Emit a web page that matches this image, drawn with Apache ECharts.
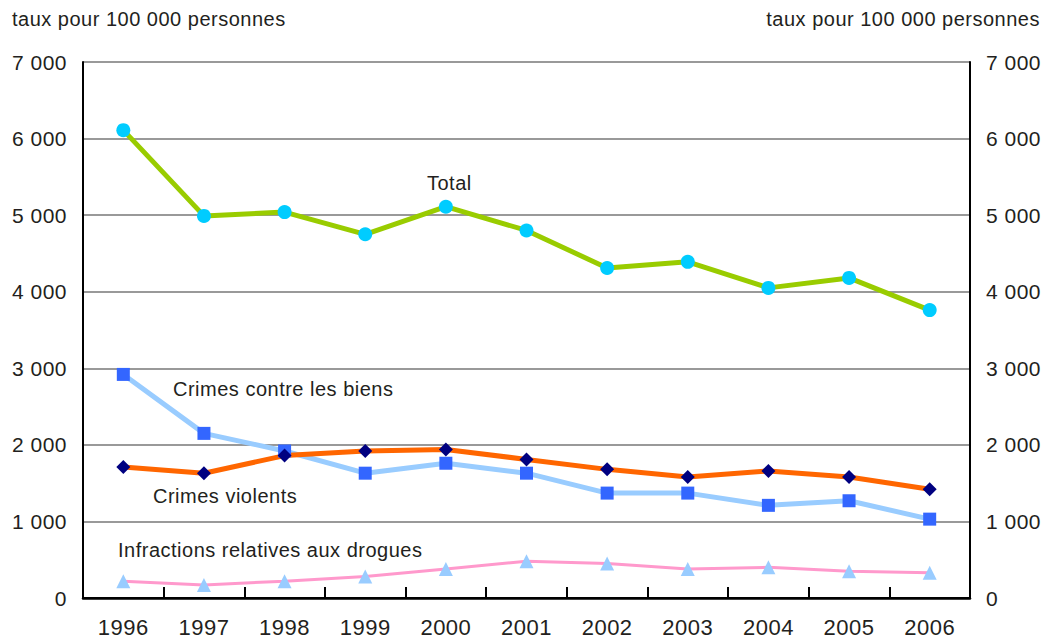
<!DOCTYPE html>
<html>
<head>
<meta charset="utf-8">
<script src="https://cdn.jsdelivr.net/npm/echarts@6/dist/echarts.min.js"></script>
<style>
  html, body { margin: 0; padding: 0; background: #fff; }
  #chart { width: 1057px; height: 638px; letter-spacing: 0.5px; }
</style>
</head>
<body>
<div id="chart"></div>
<script>
const years = ['1996', '1997', '1998', '1999', '2000', '2001', '2002', '2003', '2004', '2005', '2006']
const total = [6110, 4990, 5040, 4750, 5110, 4800, 4310, 4390, 4050, 4180, 3760]
const biens = [2920, 2150, 1920, 1630, 1760, 1630, 1370, 1370, 1210, 1270, 1030]
const violents = [1710, 1630, 1860, 1920, 1940, 1810, 1680, 1580, 1660, 1580, 1420]
const drogues = [220, 170, 220, 280, 380, 480, 450, 380, 400, 350, 330]
const unitLabel = 'taux pour 100 000 personnes'

const FONT = '"Liberation Sans Narrow", "Liberation Sans", Arial, sans-serif'
const TXT = '#231f20'

const fmt = v => String(v).replace(/\B(?=(\d{3})+(?!\d))/g, ' ')

const chart = echarts.init(document.getElementById('chart'), null, { renderer: 'svg' })

const yAxisBase = {
  type: 'value',
  min: 0,
  max: 7000,
  interval: 1000,
  axisLine: { show: true, lineStyle: { color: '#000', width: 2 } },
  axisTick: { show: false },
  axisLabel: { color: TXT, fontFamily: FONT, fontSize: 21, formatter: fmt, margin: 16 }
}

const lineSeries = (name, data, lineColor, lineWidth, symbol, symbolSize, markerColor) => ({
  name,
  type: 'line',
  data,
  symbol,
  symbolSize,
  showAllSymbol: true,
  lineStyle: { color: lineColor, width: lineWidth },
  itemStyle: { color: markerColor, borderWidth: 0 },
  emphasis: { disabled: true },
  animation: false
})

const option = {
  backgroundColor: '#fff',
  grid: { left: 83, right: 87, top: 62, bottom: 40 },
  xAxis: [
    {
      type: 'category',
      data: years,
      boundaryGap: true,
      axisLine: { lineStyle: { color: '#000', width: 2.5 } },
      axisTick: { show: true, inside: true, length: 11, lineStyle: { color: '#000', width: 2 } },
      axisLabel: { color: TXT, fontFamily: FONT, fontSize: 22, margin: 18 }
    },
    {
      type: 'category',
      data: years,
      position: 'top',
      axisLine: { lineStyle: { color: '#000', width: 2 } },
      axisTick: { show: false },
      axisLabel: { show: false }
    }
  ],
  yAxis: [
    Object.assign({}, yAxisBase, {
      position: 'left',
      splitLine: { show: true, lineStyle: { color: '#999', width: 2 } }
    }),
    Object.assign({}, yAxisBase, {
      position: 'right',
      splitLine: { show: false }
    })
  ],
  graphic: [
    { type: 'text', x: 12, y: 9, style: { text: unitLabel, fill: TXT, font: '20px ' + FONT } },
    { type: 'text', x: 1040, y: 9, style: { text: unitLabel, fill: TXT, font: '20px ' + FONT, textAlign: 'right' } },
    { type: 'text', x: 427, y: 173, style: { text: 'Total', fill: TXT, font: '20px ' + FONT } },
    { type: 'text', x: 173, y: 379, style: { text: 'Crimes contre les biens', fill: TXT, font: '20px ' + FONT } },
    { type: 'text', x: 153, y: 486, style: { text: 'Crimes violents', fill: TXT, font: '20px ' + FONT } },
    { type: 'text', x: 118, y: 540, style: { text: 'Infractions relatives aux drogues', fill: TXT, font: '20px ' + FONT } }
  ],
  series: [
    lineSeries('Infractions relatives aux drogues', drogues, '#ff99cc', 3, 'triangle', 14, '#99ccff'),
    lineSeries('Crimes contre les biens', biens, '#99ccff', 5, 'rect', 13, '#3366ff'),
    lineSeries('Crimes violents', violents, '#ff6600', 5, 'diamond', 14, '#000080'),
    lineSeries('Total', total, '#99cc00', 5, 'circle', 14, '#00ccff')
  ]
}

chart.setOption(option)
</script>
</body>
</html>
